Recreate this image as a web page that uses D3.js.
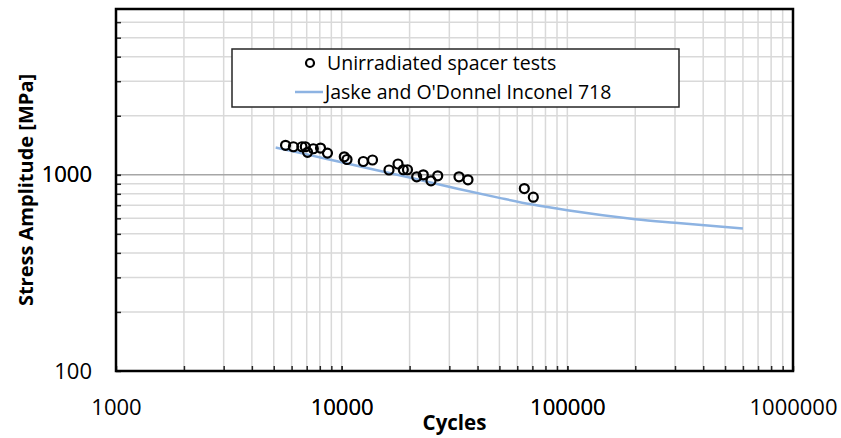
<!DOCTYPE html>
<html>
<head>
<meta charset="utf-8">
<script src="https://cdn.jsdelivr.net/npm/d3@7"></script>
<style>
  html, body { margin: 0; padding: 0; background: #fff; }
  svg { display: block; font-family: "Open Sans", "Liberation Sans", sans-serif; }
</style>
</head>
<body>
<svg id="chart" width="841" height="438"></svg>
<script>
// Axis labels
const cycleTicks = [1000, 10000, 100000, 1000000];
const stressTicks = [100, 1000];

// Fatigue tests on unirradiated spacers
const testCycles = [5640, 6110, 6670, 6900, 7060, 7490, 8060, 8650, 10270, 10560,
                    12470, 13700, 16210, 17770, 18760, 19570, 21500, 23000, 24880,
                    26650, 33110, 36290, 64480, 70680];
const testStress = [1414, 1390, 1390, 1390, 1302, 1358, 1369, 1290, 1235, 1197,
                    1169, 1190, 1058, 1135, 1061, 1061, 977, 1000, 932,
                    988, 977, 943, 851, 769];

// Jaske and O'Donnel design curve for Inconel 718
const curveCycles = [5100, 7000, 10000, 20000, 33000, 50000, 70000, 100000, 200000, 300000, 600000];
const curveStress = [1378, 1271, 1158, 968, 847, 763, 705, 659, 594, 569, 532];

const seriesNames = ["Unirradiated spacer tests", "Jaske and O'Donnel Inconel 718"];

const svg = d3.select("#chart");
const W = 841, H = 438;
const plot = { left: 116, right: 793, top: 9, bottom: 371 };

svg.append("rect").attr("width", W).attr("height", H).attr("fill", "#fff");

const x = d3.scaleLog().domain([1000, 1000000]).range([plot.left, plot.right]);
const y = d3.scaleLog().domain([100, 7000]).range([plot.bottom, plot.top]);

// every 1-9 multiple inside the domains
function logSteps(lo, hi) {
  const out = [];
  for (let p = lo; p < hi; p *= 10)
    for (let m = 1; m < 10; m++) {
      const v = m * p;
      if (v >= lo && v <= hi) out.push(v);
    }
  return out;
}
const xSteps = logSteps(1000, 1000000).filter(v => v > 1000 && v < 1000000);
const ySteps = logSteps(100, 10000).filter(v => v > 100 && v < 7000);

// gridlines
const grid = svg.append("g");
grid.selectAll("line.gx").data(xSteps).join("line")
  .attr("x1", d => x(d)).attr("x2", d => x(d))
  .attr("y1", plot.top).attr("y2", plot.bottom)
  .attr("stroke", "#d9d9d9").attr("stroke-width", 1.5);
grid.selectAll("line.gy").data(ySteps).join("line")
  .attr("x1", plot.left).attr("x2", plot.right)
  .attr("y1", d => y(d)).attr("y2", d => y(d))
  .attr("stroke", d => stressTicks.includes(d) ? "#a6a6a6" : "#d9d9d9")
  .attr("stroke-width", 1.5);

// axes: short inward ticks, labels only at decades
const fmt = d3.format("d");
const xAxis = d3.axisBottom(x).tickValues(xSteps.concat(cycleTicks))
  .tickSize(-5).tickPadding(28)
  .tickFormat(d => cycleTicks.includes(d) ? fmt(d) : "");
const yAxis = d3.axisLeft(y).tickValues(ySteps.concat(stressTicks))
  .tickSize(-5).tickPadding(24)
  .tickFormat(d => stressTicks.includes(d) ? fmt(d) : "");

const gx = svg.append("g").attr("transform", `translate(0,${plot.bottom})`).call(xAxis);
const gy = svg.append("g").attr("transform", `translate(${plot.left},0)`).call(yAxis);
[gx, gy].forEach(g => {
  g.select(".domain").remove();
  g.selectAll(".tick line").attr("stroke", "#262626").attr("stroke-width", 1.5);
  g.selectAll(".tick text").attr("fill", "#000")
    .style("font-family", '"Open Sans", sans-serif').style("font-size", "22px");
});

// fitted curve
const line = d3.line().x(d => x(d[0])).y(d => y(d[1])).curve(d3.curveMonotoneX);
svg.append("path")
  .datum(curveCycles.map((c, i) => [c, curveStress[i]]))
  .attr("d", line).attr("fill", "none")
  .attr("stroke", "#8db3e2").attr("stroke-width", 2.5);

// test points
svg.append("g").selectAll("circle")
  .data(testCycles.map((c, i) => [c, testStress[i]]))
  .join("circle")
  .attr("cx", d => x(d[0])).attr("cy", d => y(d[1]))
  .attr("r", 4.5).attr("fill", "none")
  .attr("stroke", "#000").attr("stroke-width", 2.2);

// plot frame
svg.append("rect")
  .attr("x", plot.left).attr("y", plot.top)
  .attr("width", plot.right - plot.left).attr("height", plot.bottom - plot.top)
  .attr("fill", "none").attr("stroke", "#000").attr("stroke-width", 2.5);

// legend
const lg = svg.append("g");
lg.append("rect").attr("x", 232).attr("y", 49).attr("width", 447).attr("height", 58)
  .attr("fill", "#fff").attr("stroke", "#262626").attr("stroke-width", 1.5);
lg.append("circle").attr("cx", 310).attr("cy", 63).attr("r", 4)
  .attr("fill", "none").attr("stroke", "#000").attr("stroke-width", 2.2);
lg.append("line").attr("x1", 295).attr("x2", 323).attr("y1", 92).attr("y2", 92)
  .attr("stroke", "#8db3e2").attr("stroke-width", 2.5);
lg.selectAll("text").data(seriesNames).join("text")
  .attr("x", (d, i) => i === 0 ? 327 : 325)
  .attr("y", (d, i) => i === 0 ? 63 : 92)
  .attr("dy", "0.35em")
  .style("font-size", "19.5px").attr("fill", "#000")
  .text(d => d);

// axis titles
svg.append("text")
  .attr("transform", `translate(26,${(plot.top + plot.bottom) / 2}) rotate(-90)`)
  .attr("text-anchor", "middle").attr("dy", "0.35em")
  .style("font-size", "20px").style("font-weight", "bold")
  .text("Stress Amplitude [MPa]");
svg.append("text")
  .attr("x", (plot.left + plot.right) / 2).attr("y", 423).attr("dy", "0.35em")
  .attr("text-anchor", "middle")
  .style("font-size", "20.5px").style("font-weight", "bold")
  .text("Cycles");
</script>
</body>
</html>
